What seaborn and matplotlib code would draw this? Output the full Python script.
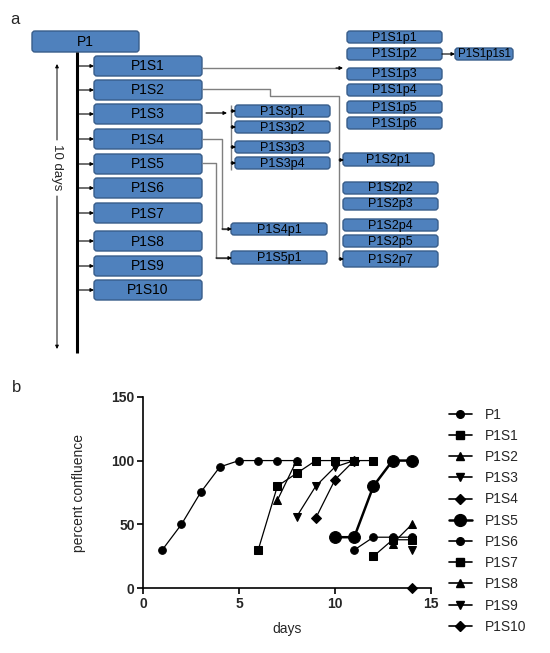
import matplotlib
matplotlib.use("Agg")
import matplotlib.pyplot as plt
import seaborn as sns
import pandas as pd
from matplotlib.patches import FancyBboxPatch
from matplotlib.lines import Line2D

# ---------------- data: growth curves (panel b) ----------------
series_names = ["P1", "P1S1", "P1S2", "P1S3", "P1S4", "P1S5",
                "P1S6", "P1S7", "P1S8", "P1S9", "P1S10"]
p1_days = [1, 2, 3, 4, 5, 6, 7, 8]
p1_vals = [30, 50, 75, 95, 100, 100, 100, 100]
p1s1_days = [6, 7, 8, 9, 10, 11, 12]
p1s1_vals = [30, 80, 90, 100, 100, 100, 100]
p1s2_days = [7, 8]
p1s2_vals = [69, 100]
p1s3_days = [8, 9, 10, 11]
p1s3_vals = [56, 80, 95, 100]
p1s4_days = [9, 10, 11]
p1s4_vals = [55, 85, 100]
p1s5_days = [10, 11, 12, 13, 14]
p1s5_vals = [40, 40, 80, 100, 100]
p1s6_days = [11, 12, 13, 14]
p1s6_vals = [30, 40, 40, 40]
p1s7_days = [12, 13, 14]
p1s7_vals = [25, 38, 38]
p1s8_days = [13, 14]
p1s8_vals = [35, 50]
p1s9_days = [14]
p1s9_vals = [30]
p1s10_days = [14]
p1s10_vals = [0]

x_ticks = [0, 5, 10, 15]
y_ticks = [0, 50, 100, 150]

# ---------------- data: lineage diagram (panel a) ----------------
root_label = "P1"
level1_labels = ["P1S1", "P1S2", "P1S3", "P1S4", "P1S5",
                 "P1S6", "P1S7", "P1S8", "P1S9", "P1S10"]
s1_children = ["P1S1p1", "P1S1p2", "P1S1p3", "P1S1p4", "P1S1p5", "P1S1p6"]
s1_grandchild = "P1S1p1s1"
s2_children = ["P1S2p1", "P1S2p2", "P1S2p3", "P1S2p4", "P1S2p5", "P1S2p7"]
s3_children = ["P1S3p1", "P1S3p2", "P1S3p3", "P1S3p4"]
s4_children = ["P1S4p1"]
s5_children = ["P1S5p1"]

# layout (pixel positions of the diagram)
level1_tops = [56, 80, 104, 129, 154, 178, 203, 231, 256, 280]
s1_tops = [31, 48, 68, 84, 101, 117]
s2_tops = [153, 182, 198, 219, 235, 251]
s2_heights = [13, 12, 12, 12, 12, 16]
s3_tops = [105, 121, 141, 157]

BOX_FC = "#4F81BD"
BOX_EC = "#385D8A"
LINE_C = "#7f7f7f"

sns.set_theme(style="ticks")
plt.rcParams["font.family"] = ["Liberation Sans", "DejaVu Sans"]

fig = plt.figure(figsize=(5.5, 6.53), dpi=100)

# ---------------- panel a ----------------
axd = fig.add_axes([0, 0, 1, 1])
axd.set_xlim(0, 550)
axd.set_ylim(653, 0)
axd.axis("off")


def box(x0, y0, w, h, label, fs=9.5):
    p = FancyBboxPatch((x0, y0), w, h,
                       boxstyle="round,pad=0,rounding_size=3",
                       fc=BOX_FC, ec=BOX_EC, lw=1.0)
    axd.add_patch(p)
    axd.text(x0 + w / 2, y0 + h / 2 + 0.5, label, ha="center", va="center",
             fontsize=fs, color="black")


def arrow(x0, y0, x1, y1, color="black", lw=0.8):
    axd.annotate("", xy=(x1, y1), xytext=(x0, y0),
                 arrowprops=dict(arrowstyle="-|>", mutation_scale=5,
                                 lw=lw, color=color, shrinkA=0, shrinkB=0))


def poly(xs, ys, color=LINE_C, lw=1.0):
    axd.plot(xs, ys, color=color, lw=lw, solid_capstyle="butt")


axd.text(10, 20, "a", fontsize=12, ha="left", va="center")

box(32, 31, 107, 21, root_label, fs=10)
poly([77, 77], [52, 353], color="black", lw=2.2)

for lab, top in zip(level1_labels, level1_tops):
    box(94, top, 108, 20, lab, fs=10)
    arrow(77, top + 10, 94, top + 10)

# 10 days arrow
arrow(57, 140, 57, 64, color="black", lw=0.7)
arrow(57, 196, 57, 349, color="black", lw=0.7)
axd.text(57, 167, "10 days", rotation=270, ha="center", va="center",
         fontsize=9.5)

# P1S1 children
for lab, top in zip(s1_children, s1_tops):
    box(347, top, 95, 12, lab, fs=9)
box(455, 48, 58, 12, s1_grandchild, fs=8.3)
arrow(442, 54, 455, 54)
poly([202, 340], [68, 68])
arrow(336, 68, 343, 68)

# P1S2 children
poly([202, 270, 270, 339, 339], [89, 89, 96, 96, 259])
for i, (lab, top, h) in enumerate(zip(s2_children, s2_tops, s2_heights)):
    w = 91 if i == 0 else 95
    box(343, top, w, h, lab, fs=9)
arrow(339, 160, 344, 160)
arrow(339, 259, 344, 259)

# P1S3 children
arrow(206, 113, 227, 113)
poly([231, 231], [105, 170])
for lab, top in zip(s3_children, s3_tops):
    box(235, top, 95, 12, lab, fs=9)
    arrow(231, top + 6, 236, top + 6)

# P1S4 / P1S5 children
poly([202, 222, 222, 228], [139, 139, 229, 229])
box(231, 223, 96, 12, s4_children[0], fs=9)
arrow(222, 229, 232, 229)
poly([202, 216, 216, 228], [163, 163, 258, 258])
box(231, 251, 96, 13, s5_children[0], fs=9)
arrow(216, 258, 232, 258)

axd.text(12, 387, "b", fontsize=12, ha="left", va="center")

# ---------------- panel b ----------------
ax = fig.add_axes([143 / 550, 1 - 588.3 / 653, 288 / 550, 191.6 / 653])

days = [p1_days, p1s1_days, p1s2_days, p1s3_days, p1s4_days, p1s5_days,
        p1s6_days, p1s7_days, p1s8_days, p1s9_days, p1s10_days]
vals = [p1_vals, p1s1_vals, p1s2_vals, p1s3_vals, p1s4_vals, p1s5_vals,
        p1s6_vals, p1s7_vals, p1s8_vals, p1s9_vals, p1s10_vals]
markers = ["o", "s", "^", "v", "D", "o", "o", "s", "^", "v", "D"]
msizes = [5.5, 6, 6, 6, 4.8, 8.5, 5.5, 6, 6, 6, 4.8]
lws = [0.9, 0.9, 0.9, 0.9, 0.9, 1.8, 0.9, 0.9, 0.9, 0.9, 0.9]
zorders = [4, 5, 2, 3, 3, 6, 7, 8, 9, 10, 11]

handles = []
for name, d, v, m, ms, lw, z in zip(series_names, days, vals, markers,
                                    msizes, lws, zorders):
    df = pd.DataFrame({"days": d, "val": v})
    sns.lineplot(data=df, x="days", y="val", ax=ax, color="black",
                 marker=m, markersize=ms, markeredgecolor="black",
                 linewidth=lw, zorder=z, clip_on=False, legend=False)
    handles.append(Line2D([0], [0], color="black", marker=m, markersize=ms,
                          lw=lw if lw > 1 else 1.2, label=name))

ax.set_xlim(0, 15)
ax.set_ylim(0, 150)
ax.set_xticks(x_ticks)
ax.set_yticks(y_ticks)
ax.set_xticklabels([str(t) for t in x_ticks], fontweight="bold", fontsize=10)
ax.set_yticklabels([str(t) for t in y_ticks], fontweight="bold", fontsize=10)
ax.set_xlabel("days", fontsize=10, labelpad=8)
ax.set_ylabel("percent confluence", fontsize=10, labelpad=18)
for s in ["top", "right"]:
    ax.spines[s].set_visible(False)
for s in ["left", "bottom"]:
    ax.spines[s].set_linewidth(1.2)
    ax.spines[s].set_color("black")
ax.tick_params(direction="out", length=4, width=1.2, color="black", pad=2)
ax.set_facecolor("none")

leg = fig.legend(handles=handles, loc="upper left",
                 bbox_to_anchor=(443 / 550, 1 - 402 / 653),
                 frameon=False, fontsize=10, handlelength=1.7,
                 labelspacing=0.52, handletextpad=0.9, borderaxespad=0)

fig.savefig("out.png", dpi=100)
